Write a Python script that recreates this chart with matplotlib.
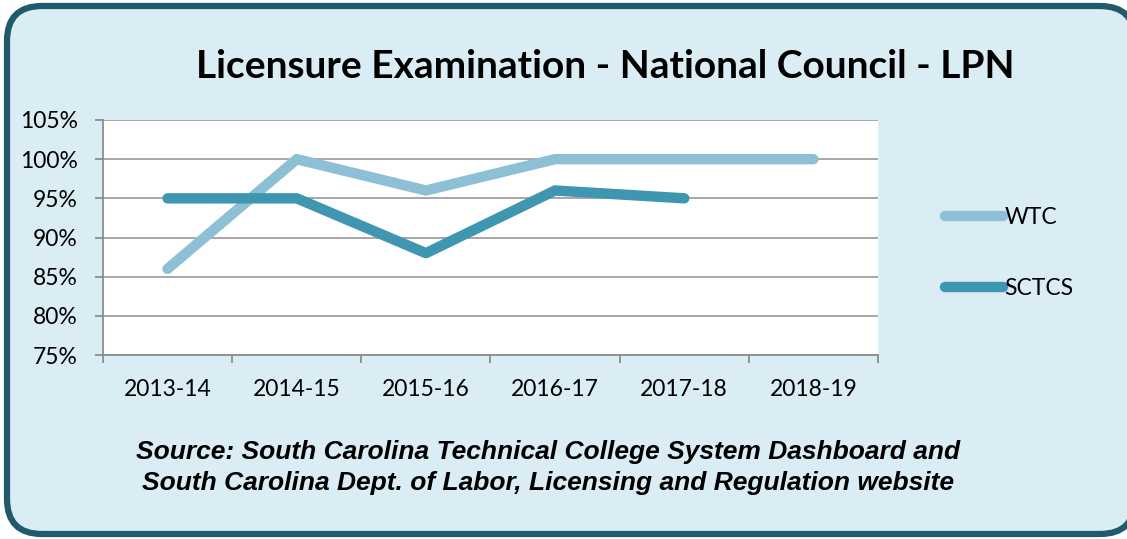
import matplotlib.pyplot as plt
from matplotlib.patches import FancyBboxPatch
from matplotlib.transforms import IdentityTransform
import numpy as np

years = ["2013-14", "2014-15", "2015-16", "2016-17", "2017-18", "2018-19"]
wtc = [86, 100, 96, 100, 100, 100]
sctcs = [95, 95, 88, 96, 95, np.nan]
y_ticks = [75, 80, 85, 90, 95, 100, 105]

W, H = 1127, 539
fig = plt.figure(figsize=(W / 100, H / 100), dpi=100)
fig.patch.set_facecolor("white")

# rounded frame drawn in pixel coords, behind the axes
frame = FancyBboxPatch((7 + 35, 5 + 35), 1135 - 7 - 70, 533 - 5 - 70,
                       boxstyle="round,pad=35", transform=IdentityTransform(),
                       facecolor="#daedf4", edgecolor="#215a6a", linewidth=4.5,
                       zorder=-5)
fig.patches.append(frame)

ax = fig.add_axes([103 / W, 1 - 355 / H, (878 - 103) / W, (355 - 120) / H])
ax.set_facecolor("white")

x = np.arange(len(years))
ax.plot(x, wtc, color="#8dc0d4", lw=7.5, solid_capstyle="round",
        solid_joinstyle="round", label="WTC", zorder=3)
ax.plot(x, sctcs, color="#3f96b0", lw=7.5, solid_capstyle="round",
        solid_joinstyle="round", label="SCTCS", zorder=4)

ax.set_xlim(-0.5, len(years) - 0.5)
ax.set_ylim(75, 105)
ax.set_yticks(y_ticks)
ax.set_yticklabels([f"{v}%" for v in y_ticks])
ax.set_xticks(x)
ax.set_xticklabels(years)
ax.set_xticks(np.arange(-0.5, len(years)), minor=True)
ax.tick_params(axis="x", which="major", length=0, pad=17)
ax.tick_params(axis="x", which="minor", length=6, width=1.3, color="#8c8c8c")
ax.tick_params(axis="y", length=6, width=1.3, color="#8c8c8c", pad=12)
for lab in ax.get_xticklabels() + ax.get_yticklabels():
    lab.set_fontfamily("Lato")
    lab.set_fontsize(16.5)
ax.grid(axis="y", color="#a0a0a0", lw=1.3, zorder=1)
for side in ["top", "right"]:
    ax.spines[side].set_visible(False)
for side in ["left", "bottom"]:
    ax.spines[side].set_color("#8c8c8c")
    ax.spines[side].set_linewidth(1.3)

fig.text(605 / W, 1 - 66 / H, "Licensure Examination - National Council - LPN",
         ha="center", va="center", fontsize=28, fontweight="bold", family="Lato")

fig.text(548 / W, 1 - 452 / H,
         "Source: South Carolina Technical College System Dashboard and",
         ha="center", va="center", fontsize=19, fontweight="bold",
         style="italic", family="Liberation Sans")
fig.text(548 / W, 1 - 483 / H,
         "South Carolina Dept. of Labor, Licensing and Regulation website",
         ha="center", va="center", fontsize=19, fontweight="bold",
         style="italic", family="Liberation Sans")

leg = fig.legend(loc="center left", bbox_to_anchor=(924 / W, 1 - 253 / H),
                 frameon=False, handlelength=2.55, handletextpad=0.05,
                 labelspacing=2.15, prop={"family": "Lato", "size": 16.5})

fig.savefig("out.png", dpi=100)
